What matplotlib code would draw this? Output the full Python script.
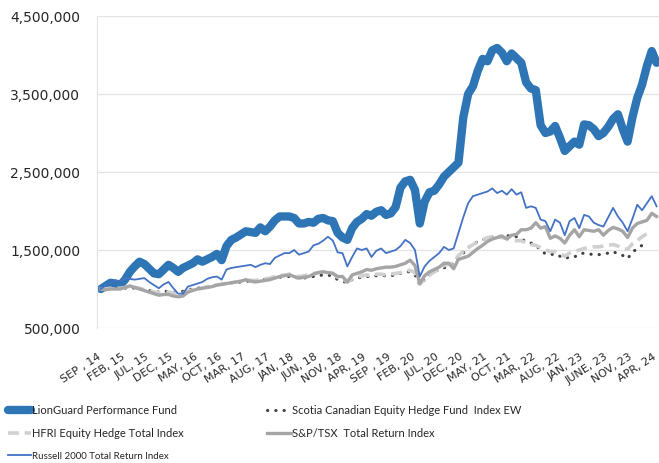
import matplotlib
matplotlib.use("Agg")
import matplotlib.pyplot as plt
import numpy as np

# Values in millions of dollars (growth of $1,000,000), monthly from SEP 2014 to APR 2024
lionguard = [1.00, 1.04, 1.08, 1.07, 1.05, 1.12, 1.22, 1.29, 1.35, 1.32,
             1.26, 1.20, 1.19, 1.25, 1.31, 1.27, 1.22, 1.27, 1.30, 1.33,
             1.38, 1.35, 1.38, 1.41, 1.45, 1.37, 1.55, 1.63, 1.66, 1.70,
             1.74, 1.73, 1.72, 1.79, 1.74, 1.80, 1.88, 1.93, 1.93, 1.93,
             1.91, 1.84, 1.84, 1.86, 1.85, 1.90, 1.91, 1.88, 1.87, 1.72,
             1.66, 1.63, 1.78, 1.86, 1.90, 1.96, 1.94, 1.99, 2.01, 1.95,
             1.97, 2.05, 2.30, 2.38, 2.40, 2.27, 1.84, 2.12, 2.24, 2.26,
             2.34, 2.44, 2.50, 2.56, 2.62, 3.20, 3.50, 3.60, 3.80, 3.95,
             3.92, 4.06, 4.09, 4.03, 3.92, 4.02, 3.96, 3.90, 3.65, 3.57,
             3.55, 3.10, 3.00, 3.02, 3.09, 2.94, 2.77, 2.83, 2.89, 2.85,
             3.11, 3.10, 3.05, 2.96, 3.00, 3.08, 3.18, 3.24, 3.05, 2.89,
             3.20, 3.45, 3.62, 3.86, 4.05, 3.90]

scotia = [1.00, 1.00, 1.01, 1.01, 1.00, 1.01, 1.02, 1.01, 1.00, 0.99,
          0.98, 0.97, 0.96, 0.97, 0.97, 0.96, 0.96, 0.97, 0.99, 1.00,
          1.01, 1.02, 1.03, 1.04, 1.05, 1.06, 1.07, 1.08, 1.08, 1.09,
          1.10, 1.10, 1.10, 1.11, 1.12, 1.13, 1.14, 1.15, 1.16, 1.16,
          1.15, 1.14, 1.14, 1.15, 1.16, 1.17, 1.18, 1.18, 1.16, 1.12,
          1.10, 1.08, 1.12, 1.14, 1.15, 1.16, 1.16, 1.17, 1.17, 1.17,
          1.17, 1.18, 1.20, 1.22, 1.22, 1.18, 1.05, 1.12, 1.18, 1.22,
          1.25, 1.27, 1.30, 1.33, 1.41, 1.46, 1.53, 1.57, 1.61, 1.63,
          1.65, 1.67, 1.67, 1.68, 1.68, 1.69, 1.67, 1.64, 1.61, 1.59,
          1.56, 1.50, 1.45, 1.44, 1.45, 1.42, 1.39, 1.41, 1.41, 1.45,
          1.46, 1.45, 1.44, 1.44, 1.45, 1.46, 1.48, 1.45, 1.43, 1.39,
          1.47, 1.52, 1.56, 1.63]

hfri = [1.00, 1.00, 1.01, 1.01, 1.01, 1.02, 1.03, 1.02, 1.01, 0.99,
        0.98, 0.96, 0.95, 0.95, 0.96, 0.95, 0.94, 0.95, 0.97, 0.99,
        1.00, 1.01, 1.03, 1.04, 1.05, 1.06, 1.07, 1.08, 1.09, 1.10,
        1.11, 1.11, 1.11, 1.12, 1.13, 1.14, 1.16, 1.17, 1.18, 1.19,
        1.17, 1.16, 1.17, 1.18, 1.20, 1.21, 1.22, 1.22, 1.20, 1.15,
        1.13, 1.09, 1.13, 1.15, 1.17, 1.18, 1.17, 1.19, 1.19, 1.18,
        1.19, 1.20, 1.21, 1.23, 1.24, 1.21, 1.06, 1.13, 1.18, 1.22,
        1.26, 1.30, 1.32, 1.33, 1.43, 1.48, 1.53, 1.57, 1.60, 1.63,
        1.66, 1.67, 1.68, 1.66, 1.65, 1.63, 1.62, 1.62, 1.59, 1.57,
        1.56, 1.53, 1.50, 1.48, 1.48, 1.46, 1.42, 1.46, 1.48, 1.50,
        1.52, 1.53, 1.54, 1.54, 1.55, 1.56, 1.57, 1.55, 1.52, 1.51,
        1.58, 1.62, 1.67, 1.71]

sptsx = [1.00, 0.99, 1.00, 1.00, 1.00, 1.02, 1.04, 1.02, 1.00, 0.98,
         0.96, 0.94, 0.92, 0.93, 0.93, 0.91, 0.90, 0.91, 0.96, 0.98,
         1.00, 1.01, 1.02, 1.03, 1.05, 1.06, 1.07, 1.08, 1.09, 1.10,
         1.12, 1.10, 1.09, 1.10, 1.11, 1.12, 1.14, 1.16, 1.17, 1.18,
         1.16, 1.14, 1.15, 1.16, 1.19, 1.21, 1.22, 1.21, 1.20, 1.16,
         1.16, 1.09, 1.18, 1.20, 1.22, 1.25, 1.24, 1.26, 1.27, 1.28,
         1.28, 1.29, 1.31, 1.33, 1.37, 1.30, 1.07, 1.17, 1.22, 1.25,
         1.28, 1.33, 1.33, 1.26, 1.38, 1.40, 1.42, 1.47, 1.52, 1.56,
         1.61, 1.64, 1.66, 1.68, 1.64, 1.69, 1.70, 1.76, 1.76, 1.78,
         1.85, 1.78, 1.80, 1.65, 1.68, 1.65, 1.59, 1.69, 1.76, 1.67,
         1.76, 1.75, 1.74, 1.76, 1.69, 1.75, 1.79, 1.77, 1.74, 1.66,
         1.78, 1.84, 1.86, 1.88, 1.97, 1.93]

russell = [1.00, 1.05, 1.08, 1.11, 1.10, 1.14, 1.13, 1.12, 1.13, 1.14,
           1.09, 1.05, 1.01, 1.06, 1.09, 1.01, 0.94, 0.94, 1.03, 1.05,
           1.07, 1.09, 1.13, 1.15, 1.16, 1.12, 1.25, 1.27, 1.28, 1.29,
           1.30, 1.31, 1.28, 1.31, 1.33, 1.32, 1.40, 1.43, 1.46, 1.46,
           1.50, 1.44, 1.46, 1.48, 1.56, 1.58, 1.62, 1.67, 1.62, 1.47,
           1.46, 1.29, 1.41, 1.52, 1.50, 1.52, 1.41, 1.49, 1.52, 1.46,
           1.48, 1.50, 1.55, 1.63, 1.59, 1.50, 1.16, 1.29, 1.36, 1.41,
           1.46, 1.54, 1.50, 1.52, 1.72, 1.92, 2.10, 2.19, 2.21, 2.23,
           2.25, 2.29, 2.23, 2.26, 2.21, 2.28, 2.21, 2.24, 2.04, 2.06,
           2.04, 1.89, 1.87, 1.74, 1.89, 1.85, 1.69, 1.87, 1.91, 1.78,
           1.95, 1.93, 1.85, 1.82, 1.80, 1.92, 2.04, 1.93, 1.85, 1.74,
           1.90, 2.08, 2.01, 2.10, 2.19, 2.06]

tick_labels = ["SEP , 14", "FEB, 15", "JUL, 15", "DEC, 15", "MAY, 16", "OCT, 16",
               "MAR, 17", "AUG, 17", "JAN, 18", "JUN, 18", "NOV, 18", "APR, 19",
               "SEP , 19", "FEB, 20", "JUL, 20", "DEC, 20", "MAY, 21", "OCT, 21",
               "MAR, 22", "AUG, 22", "JAN, 23", "JUNE, 23", "NOV, 23", "APR, 24"]
y_ticks = [500000, 1500000, 2500000, 3500000, 4500000]

series_names = ["LionGuard Performance Fund",
                "Scotia Canadian Equity Hedge Fund  Index EW",
                "HFRI Equity Hedge Total Index",
                "S&P/TSX  Total Return Index",
                "Russell 2000 Total Return Index"]

MILLION = 1_000_000

fig = plt.figure(figsize=(6.59, 4.63), dpi=100)
ax = fig.add_axes([97 / 659, 1 - 328 / 463, (659 - 97) / 659, (328 - 16) / 463])

x_l = np.arange(len(lionguard))
x_s = np.arange(len(scotia))
x_h = np.arange(len(hfri))
x_t = np.arange(len(sptsx))
x_r = np.arange(len(russell))

h_lion, = ax.plot(x_l, np.array(lionguard) * MILLION, color="#2E75B6", lw=6,
                  solid_joinstyle="round", solid_capstyle="round", zorder=2)
h_scot, = ax.plot(x_s, np.array(scotia) * MILLION, color="#404040", lw=2.2,
                  linestyle=(0, (0.1, 2.6)), dash_capstyle="round", zorder=3)
h_hfri, = ax.plot(x_h, np.array(hfri) * MILLION, color="#D0D0D0", lw=2.6,
                  linestyle=(0, (3, 1.6)), zorder=4)
h_sp, = ax.plot(x_t, np.array(sptsx) * MILLION, color="#A5A5A5", lw=2.4,
                solid_joinstyle="round", zorder=5)
h_rus, = ax.plot(x_r, np.array(russell) * MILLION, color="#4472C4", lw=1.3,
                 zorder=6)

ax.set_ylim(500000, 4500000)
ax.set_xlim(-0.3, 115.5)
ax.set_yticks(y_ticks)
ax.set_yticklabels([f"{v:,}" for v in y_ticks], fontsize=10, color="#262626",
                   family="DejaVu Sans")
# label anchors sit slightly left of each month so the rotated text ends at it
ax.set_xticks(np.arange(0, len(lionguard), 5) - 0.8)
ax.set_xticklabels(tick_labels, rotation=33, ha="right", rotation_mode="anchor",
                   fontsize=8, color="#262626", family="DejaVu Sans")
ax.tick_params(axis="y", length=0, pad=12)
ax.tick_params(axis="x", length=0, pad=17)
ax.grid(axis="y", color="#E3E3E3", lw=0.9)
ax.set_axisbelow(True)
for s in ["top", "right", "bottom"]:
    ax.spines[s].set_visible(False)
ax.spines["left"].set_color("#E3E3E3")
ax.spines["left"].set_linewidth(0.9)

handles = [h_lion, h_hfri, h_rus, h_scot, h_sp]
labels = [series_names[0], series_names[2], series_names[4], series_names[1], series_names[3]]
leg = fig.legend(handles, labels, loc="upper left", bbox_to_anchor=(8 / 659, 1 - 405 / 463),
                 ncol=2, frameon=False, borderpad=0, borderaxespad=0,
                 handlelength=2.1, handletextpad=0.1, columnspacing=7.5,
                 labelspacing=1.1, prop={"family": "Lato", "size": 8})
for t in leg.get_texts():
    t.set_color("#262626")
leg.get_texts()[2].set_fontsize(7)

fig.savefig("out.png", dpi=100)
